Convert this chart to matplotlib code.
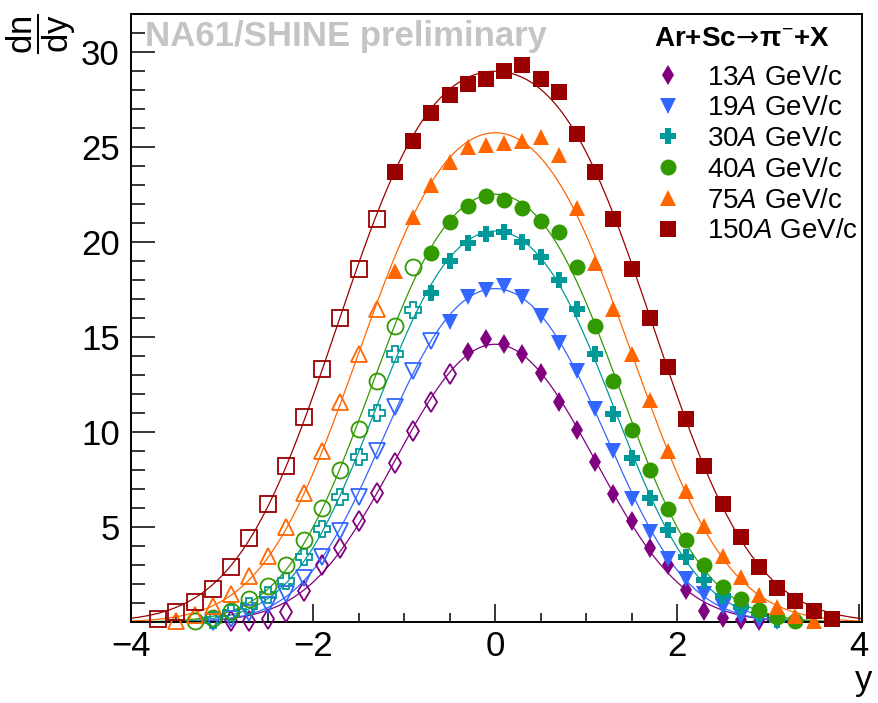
import numpy as np
import matplotlib.pyplot as plt
from matplotlib.ticker import MultipleLocator, FixedLocator

plt.rcParams['font.family'] = ['Liberation Sans', 'DejaVu Sans']
plt.rcParams['mathtext.fontset'] = 'custom'
plt.rcParams['mathtext.rm'] = 'Liberation Sans'
plt.rcParams['mathtext.it'] = 'Liberation Sans:italic'
plt.rcParams['mathtext.bf'] = 'Liberation Sans:bold'
plt.rcParams['mathtext.sf'] = 'DejaVu Sans'

# --- data: rapidity bin centres and dn/dy, measured (filled) and reflected (open)
meas_y13 = [-0.3, -0.1, 0.1, 0.3, 0.5, 0.7, 0.9, 1.1, 1.3, 1.5, 1.7, 1.9, 2.1, 2.3, 2.5, 2.7, 2.9]
meas_n13 = [14.2, 14.9, 14.65, 14.1, 13.1, 11.6, 10.1, 8.4, 6.75, 5.3, 3.9, 3.0, 1.7, 0.6, 0.2, 0.08, 0.03]
refl_y13 = [-0.5, -0.7, -0.9, -1.1, -1.3, -1.5, -1.7, -1.9, -2.1, -2.3, -2.5, -2.7, -2.9]
refl_n13 = [13.05, 11.6, 10.05, 8.35, 6.8, 5.3, 3.9, 3.0, 1.65, 0.55, 0.15, 0.06, 0.03]

meas_y19 = [-0.5, -0.3, -0.1, 0.1, 0.3, 0.5, 0.7, 0.9, 1.1, 1.3, 1.5, 1.7, 1.9, 2.1, 2.3, 2.5, 2.7, 2.9, 3.1]
meas_n19 = [15.8, 17.1, 17.5, 17.7, 17.1, 16.1, 14.7, 13.2, 11.2, 9.0, 6.5, 4.75, 3.3, 2.25, 1.45, 0.8, 0.3, 0.08, 0.02]
refl_y19 = [-0.7, -0.9, -1.1, -1.3, -1.5, -1.7, -1.9, -2.1, -2.3, -2.5, -2.7, -2.9, -3.1]
refl_n19 = [14.8, 13.2, 11.3, 9.0, 6.6, 4.8, 3.4, 2.3, 1.5, 0.9, 0.45, 0.15, 0.02]

meas_y30 = [-0.7, -0.5, -0.3, -0.1, 0.1, 0.3, 0.5, 0.7, 0.9, 1.1, 1.3, 1.5, 1.7, 1.9, 2.1, 2.3, 2.5, 2.7, 2.9, 3.1]
meas_n30 = [17.3, 19.0, 19.95, 20.4, 20.5, 20.0, 19.2, 18.0, 16.5, 14.1, 10.95, 8.65, 6.55, 4.85, 3.4, 2.2, 1.35, 0.8, 0.4, 0.08]
refl_y30 = [-0.9, -1.1, -1.3, -1.5, -1.7, -1.9, -2.1, -2.3, -2.5, -2.7, -2.9, -3.1]
refl_n30 = [16.4, 14.1, 11.0, 8.7, 6.6, 4.9, 3.4, 2.15, 1.4, 0.85, 0.45, 0.08]

meas_y40 = [-0.7, -0.5, -0.3, -0.1, 0.1, 0.3, 0.5, 0.7, 0.9, 1.1, 1.3, 1.5, 1.7, 1.9, 2.1, 2.3, 2.5, 2.7, 2.9, 3.1, 3.3]
meas_n40 = [19.4, 21.05, 21.9, 22.4, 22.2, 21.8, 21.1, 20.5, 18.7, 15.6, 12.7, 10.1, 8.0, 5.95, 4.3, 3.0, 1.85, 1.2, 0.62, 0.24, 0.05]
refl_y40 = [-0.9, -1.1, -1.3, -1.5, -1.7, -1.9, -2.1, -2.3, -2.5, -2.7, -2.9, -3.1, -3.3]
refl_n40 = [18.7, 15.6, 12.7, 10.15, 8.0, 6.0, 4.3, 3.0, 1.9, 1.2, 0.6, 0.22, 0.04]

meas_y75 = [-1.1, -0.9, -0.7, -0.5, -0.3, -0.1, 0.1, 0.3, 0.5, 0.7, 0.9, 1.1, 1.3, 1.5, 1.7, 1.9, 2.1, 2.3, 2.5, 2.7, 2.9, 3.1, 3.3, 3.5]
meas_n75 = [18.5, 21.3, 23.0, 24.2, 25.0, 25.1, 25.2, 25.3, 25.5, 24.6, 21.8, 18.9, 16.5, 14.1, 11.7, 9.0, 6.9, 5.05, 3.5, 2.35, 1.4, 0.8, 0.33, 0.05]
refl_y75 = [-1.3, -1.5, -1.7, -1.9, -2.1, -2.3, -2.5, -2.7, -2.9, -3.1, -3.3, -3.5]
refl_n75 = [16.5, 14.1, 11.6, 9.0, 6.8, 5.0, 3.5, 2.4, 1.45, 0.85, 0.35, 0.05]

meas_y150 = [-1.1, -0.9, -0.7, -0.5, -0.3, -0.1, 0.1, 0.3, 0.5, 0.7, 0.9, 1.1, 1.3, 1.5, 1.7, 1.9, 2.1, 2.3, 2.5, 2.7, 2.9, 3.1, 3.3, 3.5, 3.7]
meas_n150 = [23.7, 25.3, 26.8, 27.75, 28.3, 28.6, 29.0, 29.3, 28.6, 27.9, 25.7, 23.7, 21.2, 18.6, 16.0, 13.4, 10.7, 8.2, 6.2, 4.5, 2.9, 1.8, 1.1, 0.6, 0.15]
refl_y150 = [-1.3, -1.5, -1.7, -1.9, -2.1, -2.3, -2.5, -2.7, -2.9, -3.1, -3.3, -3.5, -3.7]
refl_n150 = [21.2, 18.6, 16.0, 13.3, 10.8, 8.2, 6.2, 4.4, 2.9, 1.75, 1.05, 0.55, 0.14]

labels = [r'13$\mathit{A}$ GeV/c', r'19$\mathit{A}$ GeV/c', r'30$\mathit{A}$ GeV/c',
          r'40$\mathit{A}$ GeV/c', r'75$\mathit{A}$ GeV/c', r'150$\mathit{A}$ GeV/c']


def double_gauss(y, amp, y0, sig):
    return amp * (np.exp(-(y - y0) ** 2 / (2 * sig ** 2)) + np.exp(-(y + y0) ** 2 / (2 * sig ** 2)))


def fit_double_gauss(yv, nv):
    # brute force grid over centre/width, amplitude by linear least squares
    yv = np.asarray(yv)
    nv = np.asarray(nv)
    c = np.linspace(0.0, 1.6, 161)[:, None, None]
    s = np.linspace(0.4, 1.6, 121)[None, :, None]
    g = double_gauss(yv[None, None, :], 1.0, c, s)
    amp = (g * nv).sum(-1) / (g * g).sum(-1)
    sse = ((nv - amp[..., None] * g) ** 2).sum(-1)
    i, j = np.unravel_index(np.argmin(sse), sse.shape)
    return amp[i, j], c[i, 0, 0], s[0, j, 0]


series = [
    (meas_y13, meas_n13, refl_y13, refl_n13, '#800080', 'd', 10.5),
    (meas_y19, meas_n19, refl_y19, refl_n19, '#3366ff', 'v', 11),
    (meas_y30, meas_n30, refl_y30, refl_n30, '#009999', 'P', 12),
    (meas_y40, meas_n40, refl_y40, refl_n40, '#339900', 'o', 11.5),
    (meas_y75, meas_n75, refl_y75, refl_n75, '#ff6600', '^', 11),
    (meas_y150, meas_n150, refl_y150, refl_n150, '#990000', 's', 11.5),
]

fig = plt.figure(figsize=(8.79, 7.03), dpi=100)
ax = fig.add_axes([0.149, 0.1152, 0.8316, 0.8649])

ycurve = np.linspace(-4.0, 4.03, 400)
handles = []
for my, mn, ry, rn, col, mk, ms in series:
    amp, y0, sig = fit_double_gauss(my + ry, mn + rn)
    ax.plot(ycurve, double_gauss(ycurve, amp, y0, sig), color=col, lw=0.9, zorder=2)
    h, = ax.plot(my, mn, ls='none', marker=mk, ms=ms, color=col, mew=0, zorder=3, clip_on=False)
    ax.plot(ry, rn, ls='none', marker=mk, ms=ms, mfc='none', mec=col, mew=1.3, zorder=3, clip_on=False)
    handles.append(h)

ax.set_xlim(-4.0, 4.03)
ax.set_ylim(0, 32)

ax.xaxis.set_major_locator(FixedLocator([-4, -2, 0, 2, 4]))
ax.xaxis.set_minor_locator(MultipleLocator(0.5))
ax.yaxis.set_major_locator(FixedLocator([5, 10, 15, 20, 25, 30]))
ax.yaxis.set_minor_locator(MultipleLocator(1))
ax.tick_params(axis='x', which='major', direction='in', length=13, width=1.1, labelsize=25, pad=6)
ax.tick_params(axis='x', which='minor', direction='in', length=6.5, width=1.1)
ax.tick_params(axis='y', which='major', direction='in', length=17, width=1.1, labelsize=25, pad=8)
ax.tick_params(axis='y', which='minor', direction='in', length=10, width=1.1)
for sp in ax.spines.values():
    sp.set_linewidth(1.4)

ax.text(0.019, 0.947, 'NA61/SHINE preliminary', transform=ax.transAxes, fontsize=25,
        fontweight='bold', color='#c4c4c4', ha='left', va='baseline', zorder=1)

# arrow taken from DejaVu Sans via \mathsf, the rest from Liberation Sans
leg = ax.legend(handles, labels, loc='upper left', bbox_to_anchor=(0.716, 0.98),
                frameon=False, fontsize=20, handlelength=1.0, handletextpad=0.9,
                labelspacing=0.17, borderaxespad=0, borderpad=0, numpoints=1,
                title=r'Ar+Sc$\!\mathsf{\rightarrow}\!$π$^{-}$+X',
                title_fontproperties={'weight': 'bold', 'size': 20},
                alignment='left')
leg._legend_box.sep = 9

fig.text(0.047, 0.952, r'$\dfrac{\mathrm{dn}}{\mathrm{dy}}$', rotation=90, fontsize=25,
         ha='center', va='center')
fig.text(0.982, 0.032, 'y', fontsize=25, ha='center', va='center')

fig.savefig('out.png', dpi=100)
